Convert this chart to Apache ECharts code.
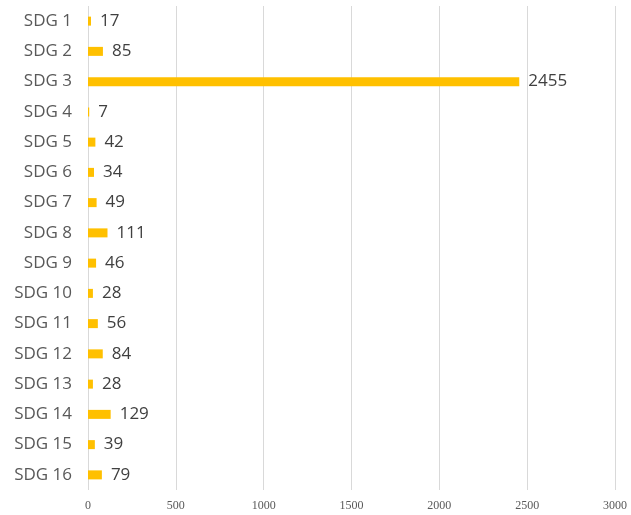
<!DOCTYPE html>
<html>
<head>
<meta charset="utf-8">
<script src="https://cdn.jsdelivr.net/npm/echarts@6/dist/echarts.min.js"></script>
<style>
  html, body { margin: 0; padding: 0; background: #fff; }
  #chart { width: 631px; height: 515px; }
</style>
</head>
<body>
<div id="chart"></div>
<script>
const categories = ["SDG 1", "SDG 2", "SDG 3", "SDG 4", "SDG 5", "SDG 6", "SDG 7", "SDG 8",
  "SDG 9", "SDG 10", "SDG 11", "SDG 12", "SDG 13", "SDG 14", "SDG 15", "SDG 16"];
const values = [17, 85, 2455, 7, 42, 34, 49, 111, 46, 28, 56, 84, 28, 129, 39, 79];

const chart = echarts.init(document.getElementById("chart"));

chart.setOption({
  animation: false,
  grid: { left: 88, right: 16, top: 6, bottom: 25, containLabel: false },
  xAxis: {
    type: "value",
    min: 0,
    max: 3000,
    interval: 500,
    axisLine: { show: false },
    axisTick: { show: false },
    splitLine: { lineStyle: { color: "#d9d9d9", width: 1 } },
    axisLabel: {
      color: "#595959", fontFamily: "Liberation Serif", fontSize: 12, margin: 10,
      formatter: (v) => String(v)
    }
  },
  yAxis: {
    type: "category",
    data: categories,
    inverse: true,
    axisLine: { show: false },
    axisTick: { show: false },
    axisLabel: { color: "#595959", fontFamily: "Open Sans", fontSize: 17, margin: 16 }
  },
  series: [{
    type: "bar",
    data: values,
    barWidth: 9,
    itemStyle: { color: "#FFC000" },
    label: {
      show: true,
      position: "right",
      distance: 9,
      color: "#404040",
      fontFamily: "Open Sans",
      fontSize: 17
    }
  }]
});
</script>
</body>
</html>
